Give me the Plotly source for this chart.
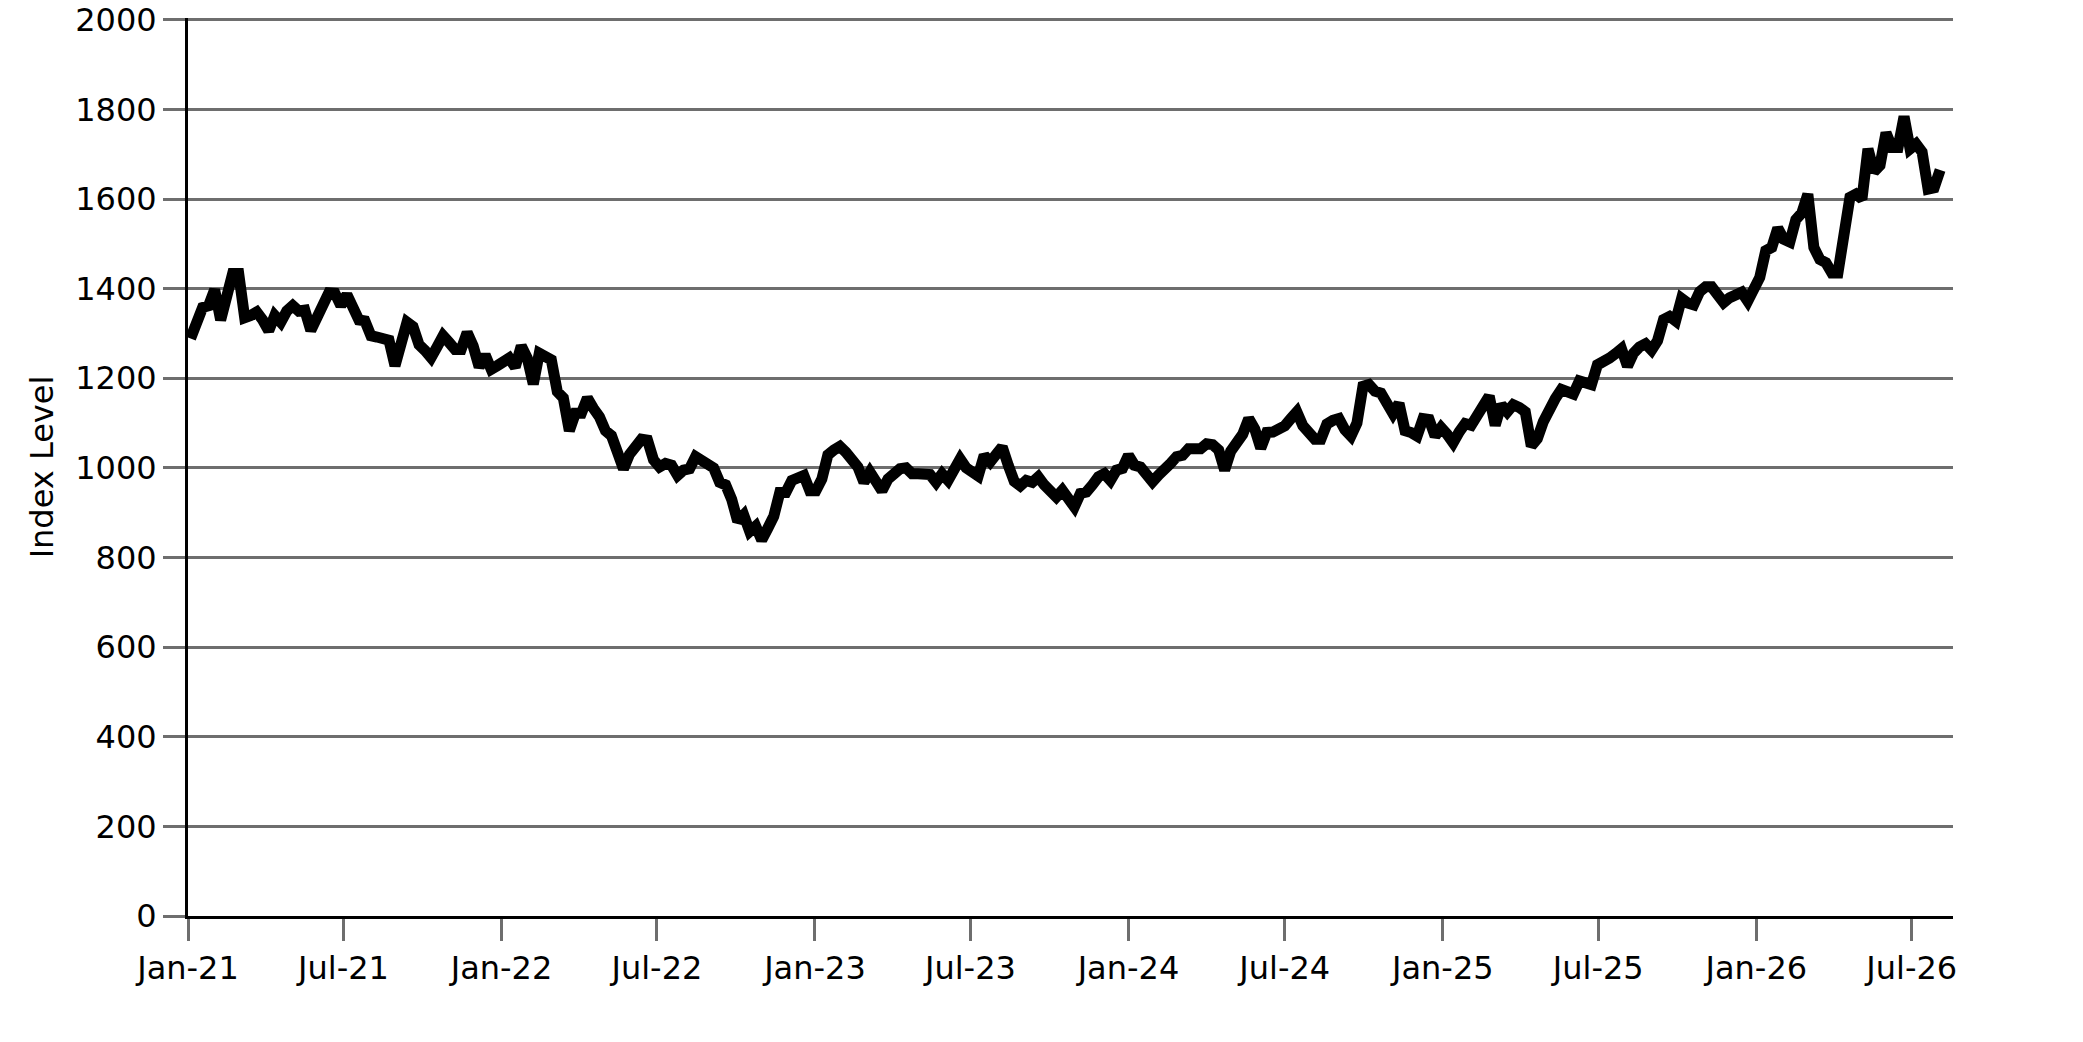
import pandas as pd
import plotly.graph_objects as go

# Weekly index level (first week: 4 Jan 2021)
start_date = "2021-01-04"
index_values = [
    # 2021
    1289, 1330, 1358, 1362, 1398, 1330, 1390, 1434, 1434, 1335,
    1340, 1348, 1330, 1306, 1340, 1325, 1350, 1362, 1350, 1352,
    1307, 1340, 1372, 1391, 1390, 1362, 1387, 1355, 1330, 1328,
    1295, 1292, 1290, 1285, 1228, 1275, 1325, 1315, 1275, 1262,
    1246, 1270, 1295,
    1280, 1264, 1264, 1302, 1272, 1225, 1252, 1220, 1228,
    # 2022
    1237, 1245, 1225, 1272, 1245, 1187, 1256, 1248, 1241, 1170,
    1156, 1083, 1122, 1122, 1156, 1133, 1114, 1083, 1072, 1035,
    998, 1030, 1050, 1064, 1062, 1018, 1002, 1010, 1006, 983,
    995, 998, 1025,
    1015, 1010, 1000, 968, 962, 930, 881, 895, 858, 870,
    839, 865, 892, 945, 945, 972, 978, 983, 949,
    # 2023
    949, 975, 1029, 1040, 1048, 1035, 1018, 1002, 968, 991,
    970, 949, 975, 985, 998, 1000, 987, 987, 987, 985,
    968, 987, 972,
    1002, 1020, 1000, 987, 982, 1028, 1013, 1030, 1047, 1006,
    970, 960, 972, 968, 980, 962, 950, 935, 950, 935,
    913, 943, 946, 962, 980, 987, 972, 995, 999,
    # 2024
    1028, 1006, 1002, 980, 969, 984, 995, 1010, 1025, 1028,
    1043, 1043, 1043, 1054,
    1052, 1040, 995, 1037, 1055, 1075, 1110, 1087, 1044, 1079,
    1080, 1085, 1094, 1110, 1125, 1094, 1080, 1064, 1064, 1098,
    1106, 1110, 1085, 1071, 1100, 1182, 1186, 1171, 1167, 1145,
    1121, 1144, 1083, 1079, 1071, 1110, 1108, 1071, 1090, 1075,
    1056,
    # 2025
    1080, 1099, 1095, 1118, 1133, 1160, 1095, 1141, 1125, 1141,
    1135, 1125, 1049, 1065, 1103, 1137, 1155, 1175, 1171, 1165,
    1194, 1190, 1186, 1230, 1241, 1245, 1255, 1266, 1227, 1256,
    1270, 1277, 1263, 1284, 1331, 1338, 1328, 1378, 1368, 1364,
    1393, 1404,
    1404, 1385, 1369, 1380, 1388, 1392, 1372, 1400,
    # 2026
    1425, 1485, 1492, 1535, 1510, 1504, 1554, 1569, 1611, 1492,
    1465, 1458, 1435, 1435, 1520, 1604, 1611, 1600, 1712, 1661,
    1675, 1748, 1715, 1715, 1784, 1712, 1723, 1705, 1622, 1625,
    1665,
]

x_tick_dates = ["2021-01-01", "2021-07-01", "2022-01-01", "2022-07-01",
                "2023-01-01", "2023-07-01", "2024-01-01", "2024-07-01",
                "2025-01-01", "2025-07-01", "2026-01-01", "2026-07-01"]
x_tick_labels = ["Jan-21", "Jul-21", "Jan-22", "Jul-22", "Jan-23", "Jul-23",
                 "Jan-24", "Jul-24", "Jan-25", "Jul-25", "Jan-26", "Jul-26"]
y_tick_values = [0, 200, 400, 600, 800, 1000, 1200, 1400, 1600, 1800, 2000]
y_title = "Index Level"

dates = pd.date_range(start_date, periods=len(index_values), freq="7D")

fig = go.Figure()
fig.add_trace(go.Scatter(
    x=dates, y=index_values, mode="lines",
    line=dict(color="black", width=11, shape="linear"),
    hoverinfo="x+y", showlegend=False,
))

FONT = "DejaVu Sans"
fig.update_layout(
    width=2083, height=1042,
    margin=dict(l=188, r=130, t=18, b=126, pad=0, autoexpand=False),
    paper_bgcolor="white", plot_bgcolor="white",
    font=dict(family=FONT, size=32, color="black"),
    showlegend=False,
)
fig.update_xaxes(
    type="date", automargin=False,
    range=["2021-01-01", "2026-08-18"],
    tickmode="array", tickvals=x_tick_dates, ticktext=x_tick_labels,
    ticks="outside", ticklen=22, tickwidth=3, tickcolor="#6e6e6e",
    showline=True, linecolor="black", linewidth=3,
    showgrid=False, zeroline=False,
    tickfont=dict(family=FONT, size=32, color="black"),
)
fig.update_yaxes(
    range=[0, 2004], automargin=False,
    tickmode="array", tickvals=y_tick_values,
    ticks="outside", ticklen=22, tickwidth=3, tickcolor="#6e6e6e",
    showline=True, linecolor="black", linewidth=3,
    showgrid=True, gridcolor="#6e6e6e", gridwidth=3,
    zeroline=False, ticklabeloverflow="allow",
    tickfont=dict(family=FONT, size=32, color="black"),
    title=dict(text=y_title, font=dict(family=FONT, size=32, color="black"), standoff=12),
)

fig.write_html(
    "out.html",
    config={"displayModeBar": False},
    post_script="document.body.style.margin='0';document.body.style.overflow='hidden';",
)
